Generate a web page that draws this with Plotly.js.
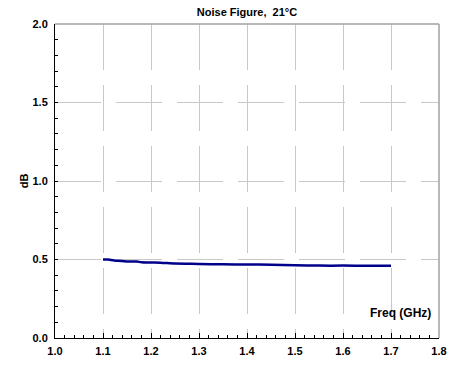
<!DOCTYPE html>
<html>
<head>
<meta charset="utf-8">
<script src="https://cdn.plot.ly/plotly-3.0.1.min.js"></script>
<style>html,body{margin:0;padding:0;background:#fff;}#chart{width:459px;height:366px;}</style>
</head>
<body>
<div id="chart"></div>
<script>
var freqGHz = [1.10, 1.11, 1.13, 1.15, 1.17, 1.18, 1.20, 1.22, 1.25, 1.30, 1.35, 1.40, 1.45, 1.50, 1.55, 1.60, 1.65, 1.70];
var noiseDb = [0.500, 0.500, 0.492, 0.488, 0.487, 0.483, 0.481, 0.480, 0.474, 0.472, 0.469, 0.468, 0.467, 0.464, 0.461, 0.461, 0.460, 0.460];
var xTickVals = [1.0, 1.1, 1.2, 1.3, 1.4, 1.5, 1.6, 1.7, 1.8];
var xTickText = ['1.0', '1.1', '1.2', '1.3', '1.4', '1.5', '1.6', '1.7', '1.8'];
var yTickVals = [0.0, 0.5, 1.0, 1.5, 2.0];
var yTickText = ['0.0', '0.5', '1.0', '1.5', '2.0'];

var fontFam = 'Liberation Sans, Arial, sans-serif';
var data = [{
  x: freqGHz, y: noiseDb, type: 'scatter', mode: 'lines',
  line: {color: '#00008B', width: 2.5, shape: 'spline', smoothing: 0.6},
  hoverinfo: 'skip'
}];
var layout = {
  width: 459, height: 366,
  margin: {l: 55, r: 20, t: 24, b: 28, pad: 0},
  paper_bgcolor: '#fff', plot_bgcolor: '#fff',
  showlegend: false,
  title: {text: 'Noise Figure,  21°C', x: 247/459, xanchor: 'center', y: 1 - 12/366, yanchor: 'middle',
    font: {family: fontFam, size: 11, color: '#000', weight: 'bold'}},
  xaxis: {
    range: [1.0, 1.8], tickmode: 'array', tickvals: xTickVals, ticktext: xTickText,
    ticks: 'inside', ticklen: 5, tickwidth: 1, tickcolor: '#000',
    minor: {dtick: 0.02, ticks: 'inside', ticklen: 3, tickcolor: '#000', showgrid: false},
    showline: true, linecolor: '#000', linewidth: 1,
    showgrid: true, gridcolor: '#c8c8c8', gridwidth: 1, griddash: '46px,15px',
    zeroline: false, fixedrange: true,
    tickfont: {family: fontFam, size: 11, color: '#000', weight: 'bold'},
    ticklabelstandoff: 3
  },
  yaxis: {
    range: [0, 2.0], tickmode: 'array', tickvals: yTickVals, ticktext: yTickText,
    ticks: 'inside', ticklen: 3, tickwidth: 1, tickcolor: '#000',
    minor: {dtick: 0.1, ticks: 'inside', ticklen: 3, tickcolor: '#000', showgrid: false},
    showline: true, linecolor: '#000', linewidth: 1,
    showgrid: true, gridcolor: '#c8c8c8', gridwidth: 1, griddash: '46px,15px',
    zeroline: false, fixedrange: true,
    tickfont: {family: fontFam, size: 11, color: '#000', weight: 'bold'},
    ticklabelstandoff: 4,
    title: {text: 'dB', standoff: 1, font: {family: fontFam, size: 11, color: '#000', weight: 'bold'}}
  },
  shapes: [
    {type: 'line', xref: 'paper', yref: 'paper', x0: 0, x1: 1, y0: 1, y1: 1, line: {color: '#a0a0a0', width: 1.5}},
    {type: 'line', xref: 'paper', yref: 'paper', x0: 1, x1: 1, y0: 0, y1: 1, line: {color: '#a0a0a0', width: 1.5}}
  ],
  annotations: [{
    text: 'Freq (GHz)', xref: 'paper', yref: 'paper', x: 0.985, y: 0.08, xanchor: 'right', yanchor: 'middle',
    showarrow: false, font: {family: fontFam, size: 12, color: '#000', weight: 'bold'}
  }]
};
Plotly.newPlot('chart', data, layout, {staticPlot: true, displayModeBar: false});
</script>
</body>
</html>
